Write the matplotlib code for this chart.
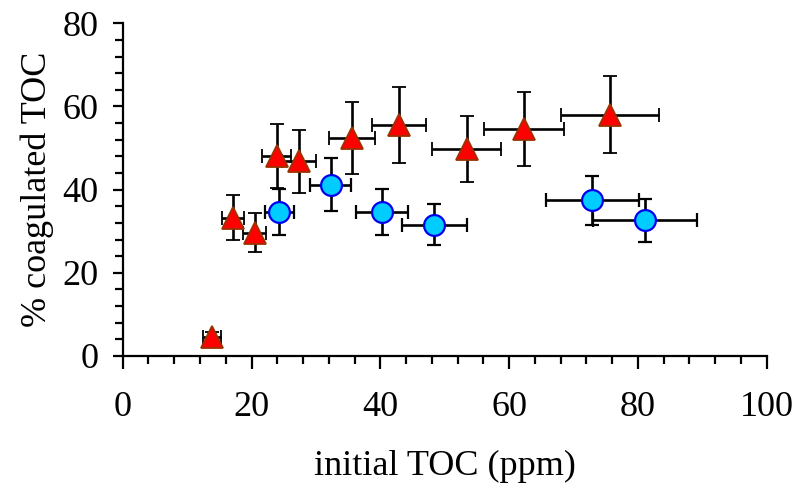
import matplotlib
matplotlib.use("Agg")
import matplotlib.pyplot as plt
from matplotlib.ticker import MultipleLocator

# Red triangles series
tri_x = [13.8, 17.1, 20.5, 23.9, 27.4, 35.6, 42.9, 53.4, 62.3, 75.6]
tri_y = [4.5, 33.2, 29.6, 48.0, 46.8, 52.4, 55.6, 49.7, 54.6, 58.0]
tri_xerr = [1.4, 1.7, 1.8, 2.3, 2.6, 3.5, 4.2, 5.3, 6.2, 7.6]
tri_yerr = [1.2, 5.4, 4.7, 7.7, 7.5, 8.6, 9.1, 7.9, 8.9, 9.3]

# Blue circles series
cir_x = [24.3, 32.3, 40.3, 48.4, 72.9, 81.1]
cir_y = [34.6, 41.2, 34.6, 31.6, 37.4, 32.6]
cir_xerr = [2.25, 3.2, 4.0, 5.0, 7.2, 8.1]
cir_yerr = [5.6, 6.4, 5.5, 5.0, 5.9, 5.2]

xlabel = "initial TOC (ppm)"
ylabel = "% coagulated TOC"

plt.rcParams['font.family'] = ['Liberation Serif', 'DejaVu Serif']

fig = plt.figure(figsize=(8.11, 4.94), dpi=100)
ax = fig.add_axes([0.1513, 0.2794, 0.7941, 0.6734])

ax.errorbar(cir_x, cir_y, xerr=cir_xerr, yerr=cir_yerr, fmt='o',
            ms=15, mfc='#00CCFF', mec='#0000EE', mew=1.6,
            ecolor='black', elinewidth=1.9, capsize=5, capthick=1.9, zorder=3)
ax.errorbar(tri_x, tri_y, xerr=tri_xerr, yerr=tri_yerr, fmt='^',
            ms=16.5, mfc='#FF0000', mec='#993300', mew=1.3,
            ecolor='black', elinewidth=1.9, capsize=5, capthick=1.9, zorder=3)

ax.set_xlim(0, 100)
ax.set_ylim(0, 80)
ax.xaxis.set_major_locator(MultipleLocator(20))
ax.xaxis.set_minor_locator(MultipleLocator(4))
ax.yaxis.set_major_locator(MultipleLocator(20))
ax.yaxis.set_minor_locator(MultipleLocator(4))

for s in ['top', 'right']:
    ax.spines[s].set_visible(False)
for s in ['left', 'bottom']:
    ax.spines[s].set_linewidth(1.6)

ax.tick_params(axis='x', which='major', direction='out', length=9, width=1.6, labelsize=26, pad=16)
ax.tick_params(axis='x', which='minor', direction='out', length=6, width=1.6)
ax.tick_params(axis='y', which='major', direction='out', length=7.5, width=1.6, labelsize=26, pad=10)
ax.tick_params(axis='y', which='minor', direction='out', length=6, width=1.6)

ax.set_xlabel(xlabel, fontsize=26, labelpad=19)
ax.set_ylabel(ylabel, fontsize=26, labelpad=6)

fig.savefig("out.png", dpi=100)
